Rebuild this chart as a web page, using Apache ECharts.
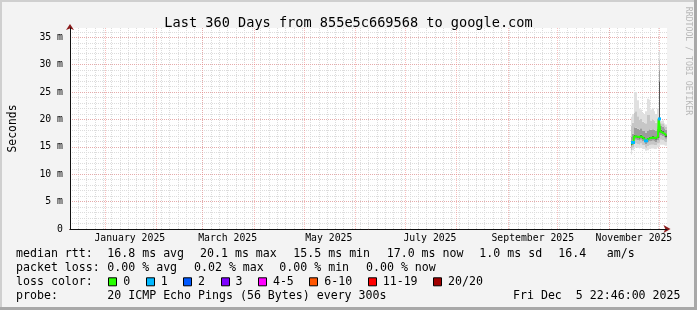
<!DOCTYPE html>
<html><head><meta charset="utf-8">
<script src="https://cdn.jsdelivr.net/npm/echarts@6/dist/echarts.min.js"></script>
<style>html,body{margin:0;padding:0;background:#f3f3f3}#c{width:697px;height:310px}</style>
</head><body><div id="c"></div>
<script>
// ---------- data ----------
const titleText = 'Last 360 Days from 855e5c669568 to google.com';
const yAxisName = 'Seconds';
const watermark = 'RRDTOOL / TOBI OETIKER';
const xDaysTotal = 360; // days shown (start = Dec 10 2024 22:46)
const monthStarts = [21.05, 52.05, 80.05, 111.05, 141.05, 172.05, 202.05, 233.05, 264.05, 294.05, 325.05, 355.05];
const monthLabelPos = [36.05, 95.05, 156.05, 217.05, 279.05, 340.05];
const monthLabels = ['January 2025', 'March 2025', 'May 2025', 'July 2025', 'September 2025', 'November 2025'];
const yTickValues = [0, 5, 10, 15, 20, 25, 30, 35];
const yTickLabels = ['0', '5 m', '10 m', '15 m', '20 m', '25 m', '30 m', '35 m'];
const yMax = 36.7;

// daily buckets (day index from start, bucket centre)
const days = [338.5, 339.5, 340.5, 341.5, 342.5, 343.5, 344.5, 345.5, 346.5, 347.5, 348.5,
              349.5, 350.5, 351.5, 352.5, 353.5, 354.5, 355.5, 356.5, 357.5, 358.5, 359.5];
const median = [15.5, 15.8, 16.9, 16.9, 16.8, 16.7, 16.9, 16.6, 16.6, 16.1, 16.4,
                16.6, 16.6, 16.7, 16.6, 16.5, 16.8, 20.1, 17.8, 17.6, 17.3, 17.0];
const lossCount = [0, 1, 0, 0, 0, 0, 0, 0, 0, 1, 0,
                   0, 0, 0, 0, 0, 0, 1, 0, 0, 0, 0];
// smoke: sorted ping percentiles (ms)
const p0 = [13.6, 14.4, 14.8, 14.9, 14.8, 14.7, 14.8, 14.6, 14.6, 14.3, 14.4, 14.6, 14.7, 14.7, 14.6, 14.6, 14.9, 15.0, 15.4, 15.4, 15.3, 15.2];
const p1 = [14.4, 14.9, 15.5, 15.6, 15.5, 15.4, 15.6, 15.3, 15.3, 14.9, 15.1, 15.3, 15.4, 15.4, 15.3, 15.3, 15.6, 15.8, 16.3, 16.2, 16.0, 15.9];
const p2 = [15.0, 15.4, 16.3, 16.3, 16.2, 16.1, 16.3, 16.0, 16.0, 15.5, 15.8, 16.0, 16.0, 16.1, 16.0, 15.9, 16.2, 16.6, 17.1, 17.0, 16.7, 16.5];
const p3 = [15.3, 15.6, 16.7, 16.7, 16.6, 16.5, 16.7, 16.4, 16.4, 15.9, 16.2, 16.4, 16.4, 16.5, 16.4, 16.3, 16.6, 17.6, 17.6, 17.4, 17.1, 16.8];
const p4 = [15.8, 16.1, 17.2, 17.1, 17.0, 16.9, 17.2, 16.8, 16.8, 16.4, 16.7, 16.9, 16.9, 17.0, 16.9, 16.8, 17.1, 27.0, 18.1, 17.9, 17.6, 17.3];
const p5 = [16.8, 17.4, 18.6, 18.5, 18.3, 18.1, 18.4, 18.0, 17.9, 17.6, 18.0, 18.2, 18.1, 18.2, 18.1, 17.9, 18.3, 29.0, 18.8, 18.7, 18.4, 18.1];
const p6 = [18.8, 19.4, 21.2, 21.5, 20.6, 20.0, 20.1, 19.6, 19.4, 19.3, 20.8, 20.8, 19.8, 20.0, 19.7, 19.4, 20.2, 30.8, 19.3, 19.3, 18.9, 18.7];
const p7 = [20.5, 21.0, 25.0, 25.0, 23.5, 22.0, 21.8, 21.2, 21.0, 21.5, 23.8, 23.6, 21.8, 22.0, 21.5, 21.0, 22.0, 32.5, 19.7, 19.8, 19.3, 19.1];

const lossLabels = ['0', '1', '2', '3', '4-5', '6-10', '11-19', '20/20'];
const lossColors = ['#26ff00', '#00b8ff', '#0059ff', '#7e00ff', '#ff00ff', '#ff5500', '#ff0000', '#a10000'];

const rttRow = ['median rtt:', '16.8 ms avg', '20.1 ms max', '15.5 ms min', '17.0 ms now', '1.0 ms sd', '16.4', 'am/s'];
const lossRow = ['packet loss:', '0.00 % avg', '0.02 % max', '0.00 % min', '0.00 % now'];
const probeRow = ['probe:', '20 ICMP Echo Pings (56 Bytes) every 300s'];
const dateText = 'Fri Dec  5 22:46:00 2025';
const lossColorLabel = 'loss color:';

// ---------- layout / style ----------
const MONO = '"DejaVu Sans Mono", monospace';
const LEG_FS = 11.6;
const CH = 7.0;
const rttX = [16, 107.3, 200, 293.3, 386.7, 479.3, 558.3, 606.7];
const lossX = [16, 107.3, 194, 279.3, 366];
const probeX = [16, 107.3];
const rowY = [254.3, 268.3, 282.3, 296.3];
const smokeShades = ['#e0e0e0', '#c6c6c6', '#9c9c9c', '#555555', '#9c9c9c', '#c6c6c6', '#e0e0e0'];
const MINOR_GRID = '#dcdcdc';
const MAJOR_GRID = 'rgba(240,110,110,0.45)';

function lossClass(n) {
  if (n <= 3) return n;
  if (n <= 5) return 4;
  if (n <= 10) return 5;
  if (n <= 19) return 6;
  return 7;
}

const smokeData = days.map((d, i) => [d, p0[i], p1[i], p2[i], p3[i], p4[i], p5[i], p6[i], p7[i]]);
const medianData = days.map((d, i) => [d, median[i]]);
const lossData = [];
days.forEach((d, i) => { if (lossCount[i] > 0) lossData.push([d, median[i], lossClass(lossCount[i])]); });

const graphics = [];
function txt(t, x, y, opts) {
  graphics.push({
    type: 'text', x: x, y: y, silent: true,
    style: Object.assign({ text: t, font: LEG_FS + 'px ' + MONO, fill: '#000', textAlign: 'left', textVerticalAlign: 'middle' }, opts || {})
  });
}
// frame
graphics.push({ type: 'rect', shape: { x: 0, y: 0, width: 697, height: 2 }, style: { fill: '#cfcfcf' }, silent: true });
graphics.push({ type: 'rect', shape: { x: 0, y: 0, width: 2, height: 310 }, style: { fill: '#cfcfcf' }, silent: true });
graphics.push({ type: 'rect', shape: { x: 694, y: 0, width: 3, height: 310 }, style: { fill: '#a8a8a8' }, silent: true });
graphics.push({ type: 'rect', shape: { x: 0, y: 307, width: 697, height: 3 }, style: { fill: '#a8a8a8' }, silent: true });
// legend rows
rttRow.forEach((t, i) => txt(t, rttX[i], rowY[0]));
lossRow.forEach((t, i) => txt(t, lossX[i], rowY[1]));
txt(lossColorLabel, 16, rowY[2]);
let bx = 108.3;
lossLabels.forEach((lab, i) => {
  graphics.push({ type: 'rect', silent: true, shape: { x: Math.round(bx) + 0.5, y: rowY[2] - 4.5, width: 8, height: 8 },
    style: { fill: lossColors[i], stroke: '#000', lineWidth: 1 } });
  txt(lab, bx + 15, rowY[2]);
  bx = bx + 15 + lab.length * CH + 15.4;
});
probeRow.forEach((t, i) => txt(t, probeX[i], rowY[3]));
txt(dateText, 680.5, rowY[3], { textAlign: 'right' });
// watermark
graphics.push({ type: 'text', x: 688, y: 61, rotation: -Math.PI / 2, silent: true,
  style: { text: watermark, font: '8.2px ' + MONO, fill: '#b8b8b8', textAlign: 'center', textVerticalAlign: 'middle' } });

const chart = echarts.init(document.getElementById('c'), null, { renderer: 'canvas', width: 697, height: 310 });
const option = {
  animation: false,
  backgroundColor: '#f3f3f3',
  title: {
    text: titleText, left: 'center', top: 11,
    textStyle: { fontFamily: MONO, fontWeight: 'normal', fontSize: 13.6, color: '#000' }
  },
  grid: { left: 67, right: 30, top: 28, bottom: 81, show: true, backgroundColor: '#ffffff', borderWidth: 0, containLabel: false },
  xAxis: [
    { type: 'value', min: 0, max: xDaysTotal, interval: 5, axisLine: { show: false }, axisTick: { show: false }, axisLabel: { show: false },
      splitLine: { show: true, showMinLine: false, showMaxLine: false, lineStyle: { color: MINOR_GRID, type: [1, 1], width: 1 } } },
    { type: 'value', min: 0, max: xDaysTotal, position: 'bottom', z: 3,
      axisLine: { show: true, onZero: false, lineStyle: { color: '#111', width: 1 } },
      axisTick: { show: false }, splitLine: { show: false },
      axisLabel: { customValues: monthLabelPos, margin: 4, fontFamily: MONO, fontSize: 9.8, color: '#000',
        formatter: v => { const k = monthLabelPos.findIndex(p => Math.abs(p - v) < 0.01); return k >= 0 ? monthLabels[k] : ''; } } },
    { type: 'value', min: 0, max: xDaysTotal, position: 'bottom', z: 2,
      axisLine: { show: true, onZero: false, symbol: ['none', 'arrow'], symbolSize: [6, 7], symbolOffset: [0, 3.5], lineStyle: { color: '#8b1a1a', width: 1 } },
      axisTick: { show: false }, axisLabel: { show: false }, splitLine: { show: false } }
  ],
  yAxis: [
    { type: 'value', min: 0, max: yMax, interval: 1, axisLine: { show: false }, axisTick: { show: false }, axisLabel: { show: false },
      splitLine: { show: true, showMinLine: false, showMaxLine: false, lineStyle: { color: MINOR_GRID, type: [1, 1], width: 1 } } },
    { type: 'value', min: 0, max: yMax, interval: 5, position: 'left', z: 3,
      axisLine: { show: true, onZero: false, lineStyle: { color: '#111', width: 1 } },
      axisTick: { show: false },
      axisLabel: { margin: 7, fontFamily: MONO, fontSize: 9.8, color: '#000',
        formatter: v => { const k = yTickValues.indexOf(v); return k >= 0 ? yTickLabels[k] : ''; } },
      splitLine: { show: true, showMinLine: false, showMaxLine: false, lineStyle: { color: MAJOR_GRID, type: [1, 1], width: 1 } },
      name: yAxisName, nameLocation: 'middle', nameRotate: 90, nameGap: 51,
      nameTextStyle: { fontFamily: MONO, fontSize: 11.4, color: '#000' } },
    { type: 'value', min: 0, max: yMax, position: 'left', z: 2,
      axisLine: { show: true, onZero: false, symbol: ['none', 'arrow'], symbolSize: [6, 6], symbolOffset: [0, 4], lineStyle: { color: '#8b1a1a', width: 1 } },
      axisTick: { show: false }, axisLabel: { show: false }, splitLine: { show: false } }
  ],
  series: [
    {
      type: 'custom', name: 'smoke', xAxisIndex: 0, yAxisIndex: 0, z: 3,
      data: smokeData, encode: { x: 0, y: [1, 8] },
      renderItem: function (params, api) {
        const x = api.value(0);
        const xl = Math.round(api.coord([x - 0.5, 0])[0]);
        const xr = Math.round(api.coord([x + 0.5, 0])[0]);
        const children = [];
        for (let k = 0; k < 7; k++) {
          const ya = api.coord([x, api.value(k + 1)])[1];
          const yb = api.coord([x, api.value(k + 2)])[1];
          children.push({ type: 'rect', shape: { x: xl, y: yb, width: xr - xl, height: ya - yb }, style: { fill: smokeShades[k] } });
        }
        return { type: 'group', children: children };
      }
    },
    {
      type: 'line', name: 'median', xAxisIndex: 0, yAxisIndex: 0, z: 4,
      data: medianData, step: 'middle', showSymbol: false,
      lineStyle: { color: lossColors[0], width: 2 }, itemStyle: { color: lossColors[0] },
      markLine: {
        silent: true, symbol: ['none', 'none'], z: 1, label: { show: false },
        lineStyle: { color: MAJOR_GRID, type: [1, 1], width: 1 },
        data: monthStarts.map(v => ({ xAxis: v }))
      }
    },
    {
      type: 'custom', name: 'loss', xAxisIndex: 0, yAxisIndex: 0, z: 5,
      data: lossData, encode: { x: 0, y: 1 },
      renderItem: function (params, api) {
        const x = api.value(0);
        const xl = Math.round(api.coord([x - 0.5, 0])[0]);
        const xr = Math.round(api.coord([x + 0.5, 0])[0]);
        const y = api.coord([x, api.value(1)])[1];
        return { type: 'rect', shape: { x: xl - 1, y: y - 1.5, width: xr - xl + 2, height: 3 },
          style: { fill: lossColors[api.value(2)] } };
      }
    }
  ],
  graphic: graphics
};
chart.setOption(option);
</script>
</body></html>
